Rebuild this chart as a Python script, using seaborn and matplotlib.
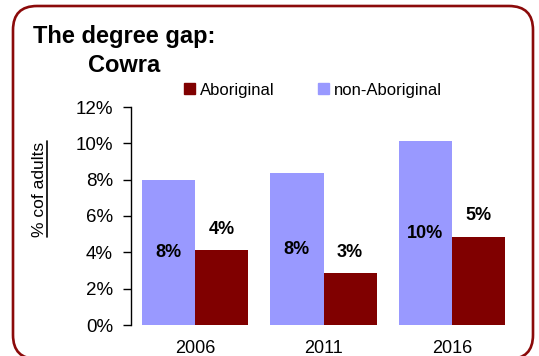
import matplotlib
matplotlib.use("Agg")
import matplotlib.pyplot as plt
from matplotlib.patches import FancyBboxPatch, Patch
from matplotlib.lines import Line2D
from matplotlib.transforms import IdentityTransform
import seaborn as sns
import pandas as pd

# Share of adults holding a degree, by census year (%)
years = ["2006", "2011", "2016"]
aboriginal = [4.12, 2.85, 4.85]
non_aboriginal = [7.99, 8.36, 10.12]
groups = ["non-Aboriginal", "Aboriginal"]
y_ticks = [0, 2, 4, 6, 8, 10, 12]

COL_NON = "#9999FF"
COL_ABO = "#800000"
FRAME = "#8B0A0A"

df = pd.DataFrame({
    "year": years * 2,
    "group": [groups[0]] * len(years) + [groups[1]] * len(years),
    "pct": non_aboriginal + aboriginal,
})

sns.set_theme(style="white")
plt.rcParams["font.family"] = ["Liberation Sans", "DejaVu Sans"]
plt.rcParams["text.color"] = "black"
plt.rcParams["xtick.color"] = "black"
plt.rcParams["ytick.color"] = "black"
plt.rcParams["axes.labelcolor"] = "black"

W, H, DPI = 539, 356, 100
fig = plt.figure(figsize=(W / DPI, H / DPI), dpi=DPI)
ax = fig.add_axes([131 / W, 1 - 325 / H, (516 - 131) / W, (325 - 107) / H])

sns.barplot(data=df, x="year", y="pct", hue="group", hue_order=groups,
            order=years, palette=[COL_NON, COL_ABO], width=0.83,
            saturation=1, errorbar=None, legend=False, linewidth=0, ax=ax)

ax.set_ylim(0, 12)
ax.set_xlim(-0.5, len(years) - 0.5)
ax.set_yticks(y_ticks)
ax.set_yticklabels([f"{t}%" for t in y_ticks], fontsize=13.5)
ax.tick_params(axis="y", left=True, length=6, width=1, color="black",
               labelcolor="black", direction="out", pad=7)
ax.tick_params(axis="x", bottom=False, labelsize=13, labelcolor="black", pad=5)
ax.set_xlabel("")
ax.set_ylabel("")
for s in ("top", "right", "bottom"):
    ax.spines[s].set_visible(False)
ax.spines["left"].set_color("black")
ax.spines["left"].set_linewidth(1)

# Value labels: inside for non-Aboriginal, above the bar for Aboriginal
fmt = lambda v: f"{round(v):.0f}%"
ax.bar_label(ax.containers[0], labels=[fmt(v) for v in non_aboriginal],
             label_type="center", fontsize=13, fontweight="bold", color="black")
ax.bar_label(ax.containers[1], labels=[fmt(v) for v in aboriginal],
             padding=9, fontsize=13, fontweight="bold", color="black")

# Legend
handles = [Patch(color=COL_ABO, label="Aboriginal"),
           Patch(color=COL_NON, label="non-Aboriginal")]
fig.legend(handles=handles, loc="center", bbox_to_anchor=(313 / W, 1 - 90 / H),
           ncol=2, frameon=False, fontsize=12, handlelength=0.65,
           handleheight=0.65, handletextpad=0.3, columnspacing=2.6,
           borderaxespad=0, borderpad=0)

# Title
fig.text(33 / W, 1 - 43 / H, "The degree gap:", fontsize=17,
         fontweight="bold", va="baseline", ha="left")
fig.text(88 / W, 1 - 72 / H, "Cowra", fontsize=17,
         fontweight="bold", va="baseline", ha="left")

# Underlined y-axis title
ylab = fig.text(44 / W, 1 - 189 / H, "% cof adults", fontsize=12.5,
                rotation=90, rotation_mode="anchor", ha="center",
                va="baseline")
fig.canvas.draw()
bb = ylab.get_window_extent()
fig.add_artist(Line2D([46.5, 46.5], [bb.y0, bb.y1], transform=IdentityTransform(),
                      color="black", lw=1.2))

# Rounded frame around the panel
fig.add_artist(FancyBboxPatch((13, -3), 520, 356 - 6 + 3,
                              boxstyle="round,pad=0,rounding_size=24",
                              transform=IdentityTransform(), fill=False,
                              edgecolor=FRAME, linewidth=1.9))

fig.savefig("out.png", dpi=DPI)
